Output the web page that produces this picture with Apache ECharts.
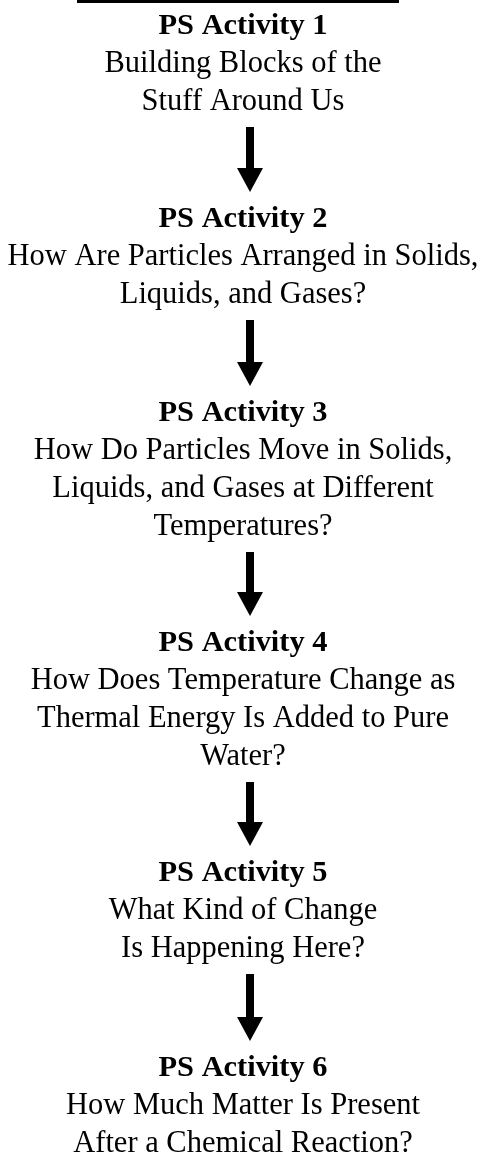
<!DOCTYPE html>
<html>
<head>
<meta charset="utf-8">
<script src="https://cdn.jsdelivr.net/npm/echarts@6/dist/echarts.min.js"></script>
<style>
  html, body { margin: 0; padding: 0; background: #ffffff; }
  #main { width: 486px; height: 1157px; }
</style>
</head>
<body>
<div id="main"></div>
<script>
// activity titles and their description lines
const titles = ['PS Activity 1', 'PS Activity 2', 'PS Activity 3', 'PS Activity 4', 'PS Activity 5', 'PS Activity 6'];
const descriptions = [
  ['Building Blocks of the', 'Stuff Around Us'],
  ['How Are Particles Arranged in Solids,', 'Liquids, and Gases?'],
  ['How Do Particles Move in Solids,', 'Liquids, and Gases at Different', 'Temperatures?'],
  ['How Does Temperature Change as', 'Thermal Energy Is Added to Pure', 'Water?'],
  ['What Kind of Change', 'Is Happening Here?'],
  ['How Much Matter Is Present', 'After a Chemical Reaction?']
];
// baseline y of each title
const titleBaselines = [35, 228, 422, 652, 882, 1077];

const chart = echarts.init(document.getElementById('main'));

const W = 486;
const cx = 243;
const lineGap = 38;
const fontFamily = '"Liberation Serif", "DejaVu Serif", serif';

// pick font sizes so widths match the picture
const meas = document.createElement('canvas').getContext('2d');
function fitSize(text, weight, target) {
  meas.font = weight + ' 100px ' + fontFamily;
  return 100 * target / meas.measureText(text).width;
}
const descSize = fitSize('How Are Particles Arranged in Solids,', 'normal', 471);
const titleSize = fitSize('PS Activity 1', 'bold', 169);

const elements = [];

// cut-off heading underline at the very top
elements.push({
  type: 'rect',
  shape: { x: 77, y: 0, width: 322, height: 3 },
  style: { fill: '#000' }
});

function textEl(str, baseline, size, weight) {
  return {
    type: 'text',
    x: cx,
    y: baseline,
    style: {
      text: str,
      font: weight + ' ' + size.toFixed(2) + 'px ' + fontFamily,
      fill: '#000',
      align: 'center',
      verticalAlign: 'bottom',
      lineHeight: size
    }
  };
}

titles.forEach((t, i) => {
  const base = titleBaselines[i];
  // text box bottom sits a bit below the baseline
  elements.push(textEl(t, base + titleSize * 0.22, titleSize, 'bold'));
  descriptions[i].forEach((line, j) => {
    const b = base + lineGap * (j + 1);
    elements.push(textEl(line, b + descSize * 0.22, descSize, 'normal'));
  });
  if (i < titles.length - 1) {
    const last = base + lineGap * descriptions[i].length;
    const next = titleBaselines[i + 1];
    const top = last + 16;
    const tip = next - 36;
    const headH = 24;
    elements.push({
      type: 'rect',
      shape: { x: cx + 7 - 4, y: top, width: 8, height: tip - headH - top + 1 },
      style: { fill: '#000' }
    });
    elements.push({
      type: 'polygon',
      shape: { points: [[cx + 7 - 13, tip - headH], [cx + 7 + 13, tip - headH], [cx + 7, tip]] },
      style: { fill: '#000' }
    });
  }
});

chart.setOption({
  backgroundColor: '#ffffff',
  animation: false,
  graphic: { elements: elements }
});
</script>
</body>
</html>
